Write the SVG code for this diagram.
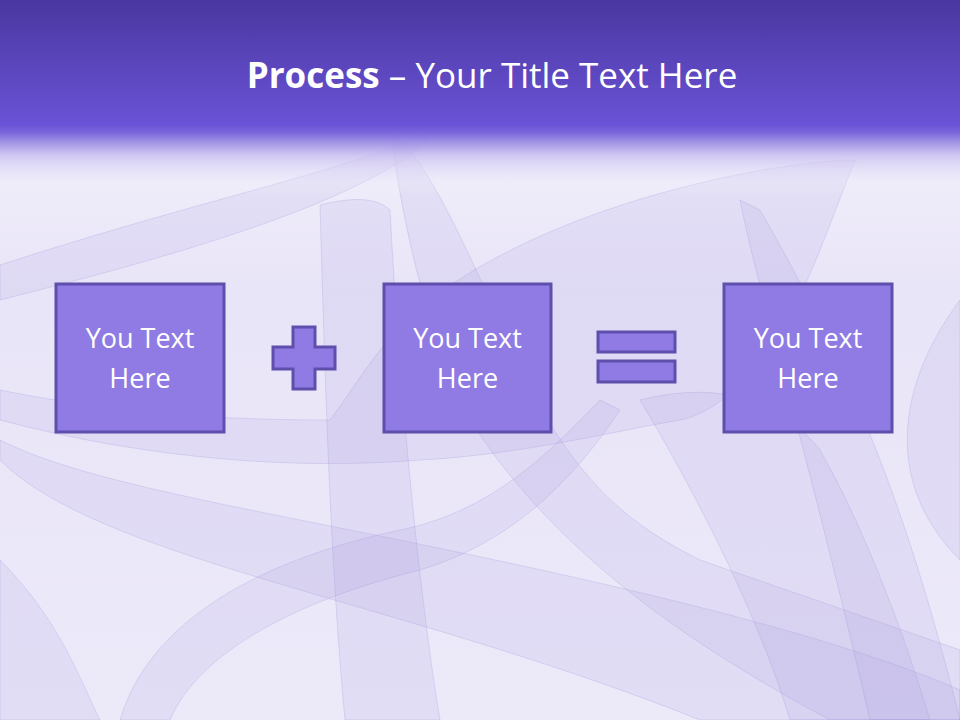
<svg xmlns="http://www.w3.org/2000/svg" width="960" height="720" viewBox="0 0 960 720">
<defs>
<linearGradient id="bg" x1="0" y1="0" x2="0" y2="1">
<stop offset="0" stop-color="#f7f6fd"/>
<stop offset="0.4" stop-color="#e9e5f8"/>
<stop offset="1" stop-color="#ece9f9"/>
</linearGradient>
<linearGradient id="hdr" x1="0" y1="0" x2="0" y2="1">
<stop offset="0" stop-color="#4a37a0"/>
<stop offset="0.64" stop-color="#6a53d6"/>
<stop offset="0.68" stop-color="#7a66db"/>
<stop offset="0.8" stop-color="#c9c0f0" stop-opacity="0.8"/>
<stop offset="1" stop-color="#ffffff" stop-opacity="0"/>
</linearGradient>
<style>
.band{fill:#a99de0;fill-opacity:0.15;stroke:#9a8ed8;stroke-opacity:0.25;stroke-width:1}
.box{fill:#8f7be3;stroke:#5f4fac;stroke-width:3}
.op{fill:#8f7be3;stroke:#5f4fac;stroke-width:3}
.lbl{font-family:"Open Sans","Noto Sans",sans-serif;font-size:27px;fill:#ffffff;text-anchor:middle}
</style>
</defs>
<rect x="0" y="0" width="960" height="720" fill="url(#bg)"/>
<g id="background">
<path class="band" d="M0,265 C200,200 350,170 420,135 L430,140 C360,200 200,250 0,300 Z"/>
<path class="band" d="M320,205 C360,195 380,200 390,210 C400,400 420,600 440,720 L345,720 C330,560 325,380 320,205 Z"/>
<path class="band" d="M390,130 C430,160 470,260 500,320 C560,470 620,520 700,560 L960,650 L960,720 L830,720 C700,650 560,560 470,420 C420,320 400,200 390,130 Z"/>
<path class="band" d="M0,420 C150,460 300,470 420,460 C520,455 620,430 680,420 C730,410 780,350 820,250 C840,200 850,170 856,160 C780,160 560,200 430,300 C380,340 360,380 330,420 C200,420 100,410 0,390 Z"/>
<path class="band" d="M0,460 C100,560 400,600 700,720 L960,720 L960,690 C800,620 500,560 300,520 C150,490 60,470 0,440 Z"/>
<path class="band" d="M640,400 C700,500 760,620 790,720 L930,720 C900,620 860,520 820,450 C780,400 720,380 640,400 Z"/>
<path class="band" d="M740,200 C760,300 800,420 870,720 L960,720 C920,560 870,400 760,210 Z"/>
<path class="band" d="M120,720 C150,620 260,560 400,530 C500,510 560,440 600,400 L620,410 C580,470 520,540 420,570 C300,600 200,650 170,720 Z"/>
<path class="band" d="M0,560 C60,620 80,680 100,720 L0,720 Z"/>
<path class="band" d="M960,300 C900,380 880,480 960,560 Z"/>
</g>
<rect x="0" y="0" width="960" height="195" fill="url(#hdr)"/>
<text x="492" y="88" font-family="'Open Sans','Noto Sans',sans-serif" font-size="35" fill="#ffffff" text-anchor="middle"><tspan font-weight="bold">Process</tspan> – Your Title Text Here</text>
<g id="node1">
<rect class="box" x="56" y="284" width="168" height="148"/>
<text class="lbl" x="140" y="348">You Text</text>
<text class="lbl" x="140" y="388">Here</text>
</g>
<g id="plus">
<path class="op" d="M293,327 H315 V347 H335 V369 H315 V389 H293 V369 H273 V347 H293 Z"/>
</g>
<g id="node2">
<rect class="box" x="384" y="284" width="167" height="148"/>
<text class="lbl" x="467.5" y="348">You Text</text>
<text class="lbl" x="467.5" y="388">Here</text>
</g>
<g id="equals">
<rect class="op" x="598" y="332" width="77" height="20"/>
<rect class="op" x="598" y="361" width="77" height="21"/>
</g>
<g id="node3">
<rect class="box" x="724" y="284" width="168" height="148"/>
<text class="lbl" x="808" y="348">You Text</text>
<text class="lbl" x="808" y="388">Here</text>
</g>
<g id="connectors"/>
</svg>
